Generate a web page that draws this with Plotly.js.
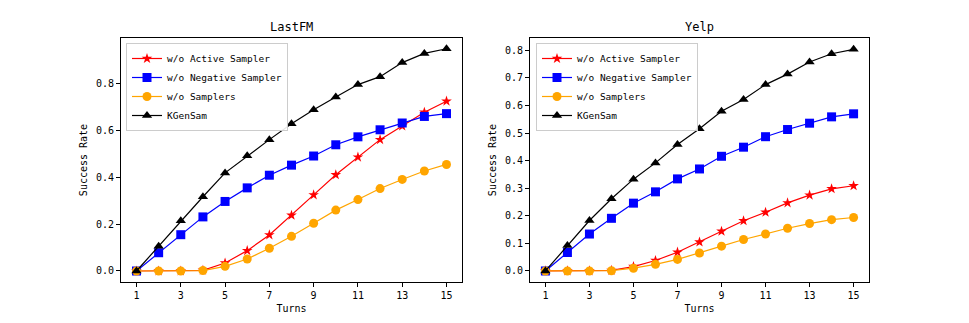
<!DOCTYPE html>
<html>
<head>
<meta charset="utf-8">
<script src="https://cdn.plot.ly/plotly-3.0.1.min.js"></script>
<style>
  html, body { margin: 0; padding: 0; background: #fff; }
  #chart { width: 969px; height: 323px; }
</style>
</head>
<body>
<div id="chart"></div>
<script>
  const turns = [1, 2, 3, 4, 5, 6, 7, 8, 9, 10, 11, 12, 13, 14, 15];
  const xTicks = [1, 3, 5, 7, 9, 11, 13, 15];

  const seriesNames = ["w/o Active Sampler", "w/o Negative Sampler", "w/o Samplers", "KGenSam"];

  const lastfmActive = [0, 0, 0, 0.003, 0.034, 0.087, 0.154, 0.238, 0.325, 0.411, 0.486, 0.561, 0.619, 0.678, 0.725];
  const lastfmNegative = [0, 0.078, 0.155, 0.231, 0.297, 0.355, 0.409, 0.452, 0.491, 0.539, 0.573, 0.603, 0.632, 0.660, 0.672];
  const lastfmNone = [0, 0, 0, 0.002, 0.020, 0.051, 0.097, 0.148, 0.204, 0.260, 0.305, 0.352, 0.391, 0.427, 0.455];
  const lastfmKGenSam = [0, 0.106, 0.215, 0.317, 0.419, 0.492, 0.561, 0.629, 0.689, 0.743, 0.796, 0.830, 0.890, 0.929, 0.949];

  const yelpActive = [0, 0, 0, 0.002, 0.016, 0.038, 0.068, 0.105, 0.144, 0.182, 0.213, 0.247, 0.275, 0.298, 0.309];
  const yelpNegative = [0, 0.067, 0.134, 0.191, 0.246, 0.287, 0.334, 0.370, 0.416, 0.449, 0.487, 0.513, 0.536, 0.559, 0.570];
  const yelpNone = [0, 0, 0, 0.001, 0.010, 0.024, 0.042, 0.065, 0.090, 0.114, 0.134, 0.155, 0.172, 0.186, 0.194];
  const yelpKGenSam = [0, 0.092, 0.183, 0.262, 0.333, 0.392, 0.459, 0.516, 0.579, 0.622, 0.676, 0.714, 0.758, 0.788, 0.804];

  const styles = [
    { color: "#ff0000", symbol: "star", size: 8 },
    { color: "#0000ff", symbol: "square", size: 9 },
    { color: "#ffa500", symbol: "circle", size: 9 },
    { color: "#000000", symbol: "triangle-up", size: 9 }
  ];

  const font = "DejaVu Sans Mono, monospace";
  const W = 969, H = 323;

  function makeTraces(values, xa, ya, legend) {
    return values.map((y, i) => ({
      x: turns,
      y: y,
      xaxis: xa,
      yaxis: ya,
      type: "scatter",
      mode: "lines+markers",
      name: seriesNames[i],
      legend: legend,
      line: { color: styles[i].color, width: 1.2 },
      marker: { color: styles[i].color, symbol: styles[i].symbol, size: styles[i].size, line: { width: 0 } }
    }));
  }

  const traces = [
    ...makeTraces([lastfmActive, lastfmNegative, lastfmNone, lastfmKGenSam], "x", "y", "legend"),
    ...makeTraces([yelpActive, yelpNegative, yelpNone, yelpKGenSam], "x2", "y2", "legend2")
  ];

  const yDomain = [1 - 282 / H, 1 - 38 / H];

  function xAxis(domain, anchor) {
    return {
      domain: domain,
      anchor: anchor,
      range: [0.3, 15.7],
      tickvals: xTicks,
      ticks: "outside",
      ticklen: 4,
      tickcolor: "#000",
      showline: true,
      mirror: true,
      linecolor: "#000",
      linewidth: 1,
      showgrid: false,
      zeroline: false,
      tickfont: { family: font, size: 10, color: "#000" },
      title: { text: "Turns", font: { family: font, size: 10, color: "#000" }, standoff: 4 }
    };
  }

  function yAxis(range, dtick, anchor) {
    return {
      domain: yDomain,
      anchor: anchor,
      range: range,
      dtick: dtick,
      tickformat: ".1f",
      ticks: "outside",
      ticklen: 4,
      tickcolor: "#000",
      showline: true,
      mirror: true,
      linecolor: "#000",
      linewidth: 1,
      showgrid: false,
      zeroline: false,
      tickfont: { family: font, size: 10, color: "#000" },
      title: { text: "Success Rate", font: { family: font, size: 10, color: "#000" }, standoff: 6 }
    };
  }

  const legendStyle = {
    bgcolor: "rgba(255,255,255,0.9)",
    bordercolor: "#cccccc",
    borderwidth: 1,
    font: { family: font, size: 9.5, color: "#000" },
    xanchor: "left",
    yanchor: "top",
    tracegroupgap: 0,
    itemwidth: 30
  };

  const layout = {
    width: W,
    height: H,
    margin: { l: 0, r: 0, t: 0, b: 0 },
    paper_bgcolor: "#fff",
    plot_bgcolor: "#fff",
    xaxis: xAxis([121 / W, 462 / W], "y"),
    yaxis: yAxis([-0.047, 0.995], 0.2, "x"),
    xaxis2: xAxis([530 / W, 869 / W], "y2"),
    yaxis2: yAxis([-0.04, 0.845], 0.1, "x2"),
    legend: Object.assign({}, legendStyle, { x: 126 / W, y: 1 - 43 / H }),
    legend2: Object.assign({}, legendStyle, { x: 536 / W, y: 1 - 43 / H }),
    annotations: [
      { text: "LastFM", x: (121 + 462) / 2 / W, y: 1 - 27 / H, xref: "paper", yref: "paper", xanchor: "center", yanchor: "middle", showarrow: false, font: { family: font, size: 12, color: "#000" } },
      { text: "Yelp", x: (530 + 869) / 2 / W, y: 1 - 27 / H, xref: "paper", yref: "paper", xanchor: "center", yanchor: "middle", showarrow: false, font: { family: font, size: 12, color: "#000" } }
    ]
  };

  Plotly.newPlot("chart", traces, layout, { displayModeBar: false, staticPlot: true });
</script>
</body>
</html>
